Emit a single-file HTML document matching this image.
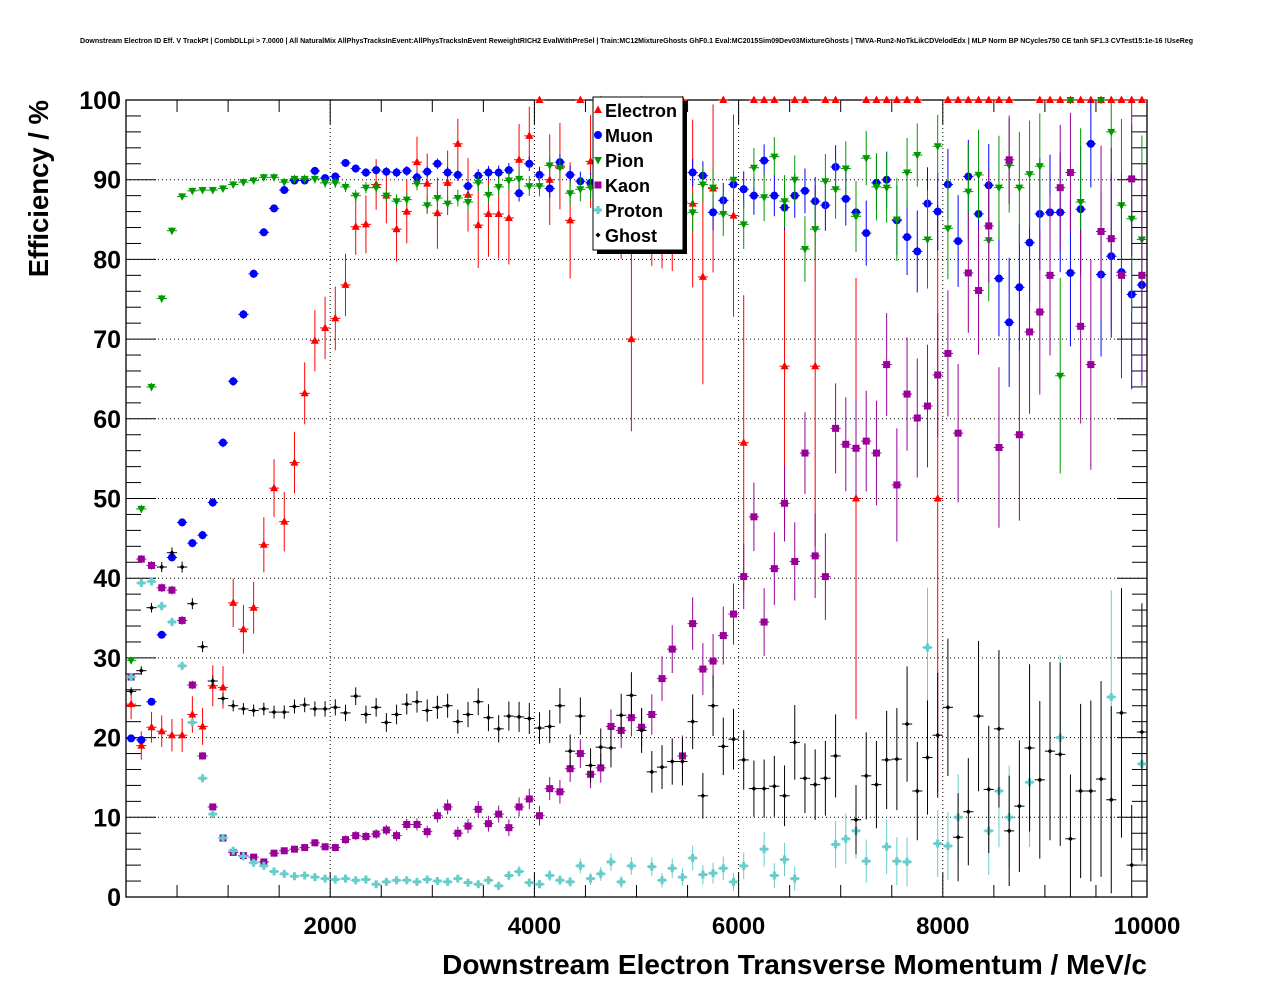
<!DOCTYPE html>
<html><head><meta charset="utf-8"><style>
html,body{margin:0;padding:0;background:#fff;}
svg{display:block;font-family:"Liberation Sans",Arial,sans-serif;}
</style></head><body>
<svg id="chart" width="1276" height="996" viewBox="0 0 1276 996" xmlns="http://www.w3.org/2000/svg">
<rect x="0" y="0" width="1276" height="996" fill="#fff"/>
<text x="80" y="43" font-size="7" font-weight="bold" textLength="1113" lengthAdjust="spacingAndGlyphs">Downstream Electron ID Eff. V TrackPt | CombDLLpi &gt; 7.0000 | All NaturalMix AllPhysTracksInEvent:AllPhysTracksInEvent ReweightRICH2 EvalWithPreSel | Train:MC12MixtureGhosts GhF0.1 Eval:MC2015Sim09Dev03MixtureGhosts | TMVA-Run2-NoTkLikCDVelodEdx | MLP Norm BP NCycles750 CE tanh SF1.3 CVTest15:1e-16 !UseReg</text>
<g id="grid"></g>
<g id="axes"></g>
<g id="series"></g>
<text x="1147" y="974" text-anchor="end" font-size="28" font-weight="bold">Downstream Electron Transverse Momentum / MeV/c</text>
<text transform="translate(48,100) rotate(-90)" text-anchor="end" font-size="27.5" font-weight="bold">Efficiency / %</text>
<g id="legend"></g>
</svg>
<script>
const binCount = 100;
const xTickValues = [2000, 4000, 6000, 8000, 10000];
const yTickValues = [0, 10, 20, 30, 40, 50, 60, 70, 80, 90, 100];
const seriesNames = ["Electron", "Muon", "Pion", "Kaon", "Proton", "Ghost"];
const electronValues = [24.2,19,21.3,20.8,20.3,20.3,22.9,21.4,26.5,26.3,36.9,33.6,36.3,44.2,51.3,47.1,54.5,63.2,69.8,71.4,72.6,76.8,84.1,84.4,89.4,88,83.8,86,92.2,89.5,85.8,89.6,94.5,
88.1,84.3,85.7,85.7,85.2,92.5,95.5,100,90,91.7,84.9,100,92.3,100,90,88,70,100,88,88,88,100,87,77.8,88.9,100,85.5,57,100,100,100,66.6,100,
100,66.6,100,100,null,50,100,100,100,100,100,100,null,50,100,100,100,100,100,100,100,null,null,100,100,100,100,100,100,100,100,100,100,100];
const muonValues = [19.9,19.7,24.5,32.9,42.6,47,44.4,45.4,49.5,57,64.7,73.1,78.2,83.4,86.4,88.7,89.9,89.9,91.1,90.2,90.4,92.1,91.4,90.9,91.2,91,90.9,91.1,90.3,91,92,
90.9,90.6,89.2,90.5,90.9,90.9,91.2,88.3,92,90.6,88.9,92.2,90.6,89.8,89.6,
90,89,90,88,89,90.5,91,90.5,
87.2,90.9,90.5,85.9,87.4,89.4,88.8,88,92.4,88,86.5,88,
88.6,87.3,86.8,91.6,87.6,85.9,83.3,89.6,90,84.9,82.8,81,87,86,89.4,82.3,90.4,85.7,89.3,77.6,72.1,76.5,82.1,85.7,85.9,85.9,78.3,86.3,94.5,78.1,80.4,78.4,75.6,76.8];
const pionValues = [29.7,48.7,64,75.1,83.6,87.9,88.6,88.7,88.7,88.9,89.4,89.7,89.9,90.3,90.3,89.7,90.1,90.1,90.1,89.6,89.6,89.1,88,89,89,88,87.3,87.5,89.5,86.8,87.7,87,87.7,
87.2,89.6,88.1,89.1,89.9,90.1,89.2,89.2,91.8,91.5,88.3,88.8,
89,88.5,89.5,88,89,90,88,87,88,85.7,
85.9,89.4,89,85.7,90,84.4,91.5,87.8,92.9,87.3,90,
81.3,83.8,89.8,88.8,91.4,85.4,92.7,89.1,89,85,90.9,93.1,82.5,94.2,83.9,null,88.5,90.6,82.4,89,91.8,89,90.7,91.7,null,65.4,100,87.2,null,100,96,86.8,85.1,82.5];
const kaonValues = [27.6,42.4,41.6,38.8,38.5,34.7,26.6,17.7,11.3,7.4,5.6,5.2,5,4.4,5.5,5.8,6,6.2,6.8,6.3,6.2,7.2,7.7,7.6,7.9,8.4,7.7,9.1,9.1,8.2,10.2,
11.3,8,8.9,11,9.2,10.4,8.7,11.3,12.3,10.2,13.6,13.2,16.1,18,15.4,16.2,21.4,20.9,22.5,21.3,22.9,27.4,31.1,17.7,34.3,28.6,29.6,32.8,35.5,40.2,47.7,34.5,41.2,49.4,42.1,
55.7,42.8,40.2,58.8,56.8,56.3,57.2,55.7,66.8,51.7,63.1,60.1,61.6,65.5,68.2,58.2,78.3,76.1,84.2,56.4,92.5,58,70.9,73.4,78,89,90.9,71.6,66.8,83.5,82.6,78,90.1,78];
const protonValues = [27.6,39.4,39.6,36.5,34.5,29,21.9,14.9,10.4,7.4,5.8,5.1,4.3,3.9,3.2,2.9,2.6,2.7,2.5,2.3,2.2,2.3,2.1,2.2,1.6,1.9,2.1,2.1,1.9,2.2,2,
1.9,2.3,1.8,1.6,2.1,1.4,2.7,3.2,1.8,1.6,2.7,2.1,1.9,3.9,2.3,2.9,4.4,1.9,3.9,null,3.8,2.1,3.6,2.5,4.9,2.8,3,3.6,1.9,3.9,null,6,2.7,4.7,2.3,
null,null,null,6.6,7.3,8.3,4.5,null,6.3,4.5,4.4,null,31.3,6.7,6.4,10,null,null,8.3,13.3,10,null,14.4,null,null,20,null,null,null,null,25.1,null,null,16.7];
const ghostValues = [25.8,28.4,36.3,41.4,43.2,41.4,36.8,31.4,27.1,24.9,24,23.6,23.4,23.6,23.2,23.2,23.9,24.1,23.6,23.6,23.8,23.1,25.2,22.9,23.8,21.9,22.9,24.2,24.5,23.4,23.8,24,22,
22.9,24.5,22.5,21.1,22.7,22.6,22.4,21.2,21.4,24,18.3,22.7,16.5,18.8,18.7,22.8,25.3,20.9,15.7,16.3,17,17,22,12.7,24,18.9,19.8,17.2,13.6,13.6,13.9,12.7,19.4,
14.9,14.1,14.9,17.7,null,9.7,15.2,14.1,17.2,17.3,21.7,13.3,17.5,20.3,23.8,7.5,10.7,22.7,13.5,21.1,8.3,11.4,18.7,14.7,18.3,17.9,7.3,13.3,13.3,14.8,12.2,23.1,4,20.7];

const NS="http://www.w3.org/2000/svg";
const L=126,R=1147,T=100,B=897,XMAX=10000;
const X=v=>L+(v/XMAX)*(R-L);
const Y=v=>B-(v/100)*(B-T);
const binW=XMAX/binCount;
function mk(tag,attrs,parent){const e=document.createElementNS(NS,tag);for(const k in attrs)e.setAttribute(k,attrs[k]);parent.appendChild(e);return e;}
const grid=document.getElementById('grid'),axes=document.getElementById('axes'),ser=document.getElementById('series'),leg=document.getElementById('legend');

for(const v of xTickValues){ if(v>=XMAX) continue;
  const g=mk('line',{x1:X(v),x2:X(v),y1:T,y2:B,stroke:'#000','stroke-width':1,'stroke-dasharray':'1,3'},grid);
  
  
}
for(const v of yTickValues){ if(v<=0||v>=100) continue;
  const g=mk('line',{x1:L,x2:R,y1:Y(v),y2:Y(v),stroke:'#000','stroke-width':1,'stroke-dasharray':'1,3'},grid);
  
  
}
const fr=mk('rect',{x:L,y:T,width:R-L,height:B-T,fill:'none',stroke:'#000','stroke-width':1.3},axes);


for(let v=0;v<=100;v+=2){const len=(v%10===0)?30:15;
  mk('line',{x1:L,x2:L+len,y1:Y(v),y2:Y(v),stroke:'#000','stroke-width':1},axes);
  mk('line',{x1:R,x2:R-len,y1:Y(v),y2:Y(v),stroke:'#000','stroke-width':1},axes);}
for(let v=0;v<=XMAX;v+=500){const len=(v%2000===0)?24:12;
  mk('line',{x1:X(v),x2:X(v),y1:B,y2:B-len,stroke:'#000','stroke-width':1},axes);
  mk('line',{x1:X(v),x2:X(v),y1:T,y2:T+len,stroke:'#000','stroke-width':1},axes);}
for(const v of yTickValues){
  const t=mk('text',{x:121,y:Y(v)+9,'text-anchor':'end','font-size':25,'font-weight':'bold'},axes);t.textContent=v;
  
  
}
for(const v of xTickValues){
  const t=mk('text',{x:X(v),y:934,'text-anchor':'middle','font-size':24,'font-weight':'bold'},axes);t.textContent=v;
  
  
}

const styles=[
 {vals:electronValues,color:'#ff0000',shape:'tri',n0:520},
 {vals:muonValues,color:'#0000ff',shape:'circ',n0:14300},
 {vals:pionValues,color:'#009900',shape:'tridown',n0:10000},
 {vals:kaonValues,color:'#990099',shape:'sq',n0:10500},
 {vals:protonValues,color:'#66cccc',shape:'cross',n0:10000},
 {vals:ghostValues,color:'#000000',shape:'dia',n0:7400}
];
function marker(shape,cx,cy,color,parent){
  if(shape==='tri') return mk('polygon',{points:`${cx},${cy-4.5} ${cx-4},${cy+3} ${cx+4},${cy+3}`,fill:color},parent);
  if(shape==='tridown') return mk('polygon',{points:`${cx},${cy+4.5} ${cx-4},${cy-3} ${cx+4},${cy-3}`,fill:color},parent);
  if(shape==='circ') return mk('circle',{cx:cx,cy:cy,r:4,fill:color},parent);
  if(shape==='sq') return mk('rect',{x:cx-3.5,y:cy-3.5,width:7,height:7,fill:color},parent);
  if(shape==='cross') return mk('path',{d:`M${cx-4},${cy-1.5}h2.5v-2.5h3v2.5h2.5v3h-2.5v2.5h-3v-2.5h-2.5z`,fill:color},parent);
  return mk('polygon',{points:`${cx},${cy-2.5} ${cx-2.5},${cy} ${cx},${cy+2.5} ${cx+2.5},${cy}`,fill:color},parent);
}
styles.forEach((s,si)=>{
  const g=mk('g',{},ser);
  
  
  s.vals.forEach((v,i)=>{
    if(v===null||v===undefined) return;
    const xc=(i+0.5)*binW, cx=X(xc), cy=Y(v);
    const n=s.n0*Math.exp(-i/14);
    const err=Math.sqrt(Math.max(v*(100-v),0)/n);
    const pt=mk('g',{},g);
    
    
    mk('line',{x1:X(xc-binW/2),x2:X(xc+binW/2),y1:cy,y2:cy,stroke:s.color,'stroke-width':1},pt);
    if(err>0.3) mk('line',{x1:cx,x2:cx,y1:Y(Math.min(100,v+err)),y2:Y(Math.max(0,v-err)),stroke:s.color,'stroke-width':1},pt);
    marker(s.shape,cx,cy,s.color,pt);
  });
});

const lx=593,ly=97,lw=90,lh=153;
mk('rect',{x:lx+4,y:ly+4,width:lw,height:lh,fill:'#000'},leg);
const lb=mk('rect',{x:lx,y:ly,width:lw,height:lh,fill:'#fff',stroke:'#000','stroke-width':1},leg);


styles.forEach((s,si)=>{
  const yy=ly+13+si*25;
  const e=mk('g',{},leg);
  
  
  marker(s.shape,598,yy,s.color,e);
  const t=mk('text',{x:605,y:yy+7,'font-size':18,'font-weight':'bold'},e);
  t.textContent=seriesNames[si];
});
</script>
</body></html>
